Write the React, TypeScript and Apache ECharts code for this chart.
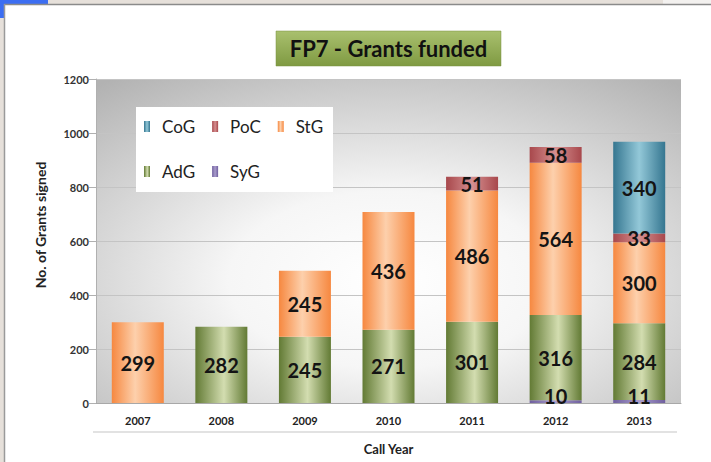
import React, { useEffect, useRef } from "react";
import * as echarts from "echarts";

const years = ["2007", "2008", "2009", "2010", "2011", "2012", "2013"];
const sygValues = [null, null, null, null, null, 10, 11];
const adgValues = [null, 282, 245, 271, 301, 316, 284];
const stgValues = [299, null, 245, 436, 486, 564, 300];
const pocValues = [null, null, null, null, 51, 58, 33];
const cogValues = [null, null, null, null, null, null, 340];
const yTicks = { min: 0, max: 1200, interval: 200 };

const FONT = "Lato";

function hGrad(edge: string, mid: string, pos = 0.5) {
  return new echarts.graphic.LinearGradient(0, 0, 1, 0, [
    { offset: 0, color: edge },
    { offset: pos, color: mid },
    { offset: 1, color: edge },
  ]);
}

export default function App() {
  const ref = useRef<HTMLDivElement>(null);
  useEffect(() => {
    if (!ref.current) return;
    const chart = echarts.init(ref.current, null, { renderer: "svg" });
    const label = (offset?: number[]) => ({
      show: true,
      position: "inside",
      fontFamily: FONT,
      fontWeight: "bold",
      fontSize: 20,
      color: "#141414",
      offset: offset || [0, 0],
    });
    const mk = (name: string, data: any[], color: any, off?: number[]) => ({
      name,
      type: "bar",
      stack: "total",
      barWidth: 52,
      data,
      itemStyle: { color },
      label: label(off),
      z: 3,
    });
    const legendCommon = {
      orient: "horizontal",
      itemWidth: 6,
      itemHeight: 11,
      itemGap: 17,
      padding: 0,
      icon: "rect",
      textStyle: {
        fontFamily: FONT,
        fontSize: 17,
        color: "#222",
        padding: [0, 0, 0, 7],
      },
    };
    chart.setOption({
      animation: false,
      backgroundColor: "#ffffff",
      grid: {
        left: 96,
        right: 30,
        top: 79,
        bottom: 59,
        show: true,
        borderWidth: 0,
        backgroundColor: new echarts.graphic.RadialGradient(0.5, 0.62, 0.78, [
          { offset: 0, color: "#ffffff" },
          { offset: 0.35, color: "#f6f6f6" },
          { offset: 1, color: "#b2b2b2" },
        ]),
      },
      legend: [
        { ...legendCommon, left: 144, top: 118, data: ["CoG", "PoC", "StG"] },
        { ...legendCommon, left: 144, top: 163, data: ["AdG", "SyG"] },
      ],
      xAxis: {
        type: "category",
        data: years,
        axisTick: { show: false },
        axisLine: { show: true, lineStyle: { color: "#a8a8a8", width: 1 } },
        axisLabel: {
          margin: 12,
          fontFamily: FONT,
          fontWeight: "bold",
          fontSize: 11,
          color: "#222",
        },
      },
      yAxis: {
        type: "value",
        min: yTicks.min,
        max: yTicks.max,
        interval: yTicks.interval,
        axisLine: { show: true, lineStyle: { color: "#b0b0b0" } },
        axisTick: { show: true, length: 7, lineStyle: { color: "#b0b0b0" } },
        splitLine: { lineStyle: { color: "#c4c4c4", width: 1 } },
        axisLabel: {
          margin: 7,
          fontFamily: FONT,
          fontWeight: "bold",
          fontSize: 11,
          color: "#333",
          formatter: (v: number) => String(v),
        },
      },
      series: [
        mk("SyG", sygValues, hGrad("#6f5f9e", "#a99ccc"), [0, -6]),
        mk("AdG", adgValues, hGrad("#627a34", "#d3ddb0", 0.55)),
        mk("StG", stgValues, hGrad("#f68840", "#fdd0ac", 0.45)),
        mk("PoC", pocValues, hGrad("#a8484c", "#d58f90")),
        mk("CoG", cogValues, hGrad("#357690", "#93c8d8")),
      ],
      graphic: [
        // frame
        { type: "rect", shape: { x: 0, y: 0, width: 711, height: 4 }, style: { fill: "#e6e0da" }, silent: true },
        { type: "rect", shape: { x: 663, y: 0, width: 48, height: 4 }, style: { fill: "#f3f1ef" }, silent: true },
        { type: "rect", shape: { x: 0, y: 0, width: 4, height: 462 }, style: { fill: "#e6e0da" }, silent: true },
        { type: "rect", shape: { x: 0, y: 0, width: 48, height: 4 }, style: { fill: "#3c6ef2" }, silent: true },
        { type: "rect", shape: { x: 0, y: 0, width: 4, height: 18 }, style: { fill: "#3c6ef2" }, silent: true },
        { type: "line", shape: { x1: 4, y1: 4.5, x2: 711, y2: 4.5 }, style: { stroke: "#8a8a8a", lineWidth: 1.5 }, silent: true },
        { type: "line", shape: { x1: 4.5, y1: 4, x2: 4.5, y2: 462 }, style: { stroke: "#9a9a9a", lineWidth: 1.5 }, silent: true },
        // title box
        {
          type: "rect",
          shape: { x: 276, y: 31, width: 225, height: 35 },
          style: {
            fill: new echarts.graphic.LinearGradient(0, 0, 0, 1, [
              { offset: 0, color: "#a9c06e" },
              { offset: 1, color: "#7f9a42" },
            ]),
            stroke: "#7a9040",
            lineWidth: 0.5,
          },
          silent: true,
        },
        {
          type: "text",
          x: 388.5,
          y: 48.5,
          style: {
            text: "FP7 - Grants funded",
            fontFamily: FONT,
            fontWeight: "bold",
            fontSize: 22,
            fill: "#111",
            align: "center",
            verticalAlign: "middle",
          },
          silent: true,
        },
        // legend box
        {
          type: "rect",
          shape: { x: 136, y: 107, width: 197, height: 85 },
          style: { fill: "#ffffff" },
          z: 1,
          silent: true,
        },
        // x axis bottom rule
        { type: "line", shape: { x1: 93, y1: 432, x2: 677, y2: 432 }, style: { stroke: "#d8d8d8", lineWidth: 1.5 }, silent: true },
        {
          type: "text",
          x: 388.5,
          y: 449,
          style: {
            text: "Call Year",
            fontFamily: FONT,
            fontWeight: "bold",
            fontSize: 13,
            fill: "#222",
            align: "center",
            verticalAlign: "middle",
          },
          silent: true,
        },
        {
          type: "text",
          x: 40,
          y: 225,
          rotation: Math.PI / 2,
          style: {
            text: "No. of Grants signed",
            fontFamily: FONT,
            fontWeight: "bold",
            fontSize: 14,
            fill: "#222",
            align: "center",
            verticalAlign: "middle",
          },
          silent: true,
        },
      ],
    });
    return () => chart.dispose();
  }, []);
  return (
    <div
      ref={ref}
      style={{ position: "fixed", left: 0, top: 0, width: 711, height: 462 }}
    />
  );
}
